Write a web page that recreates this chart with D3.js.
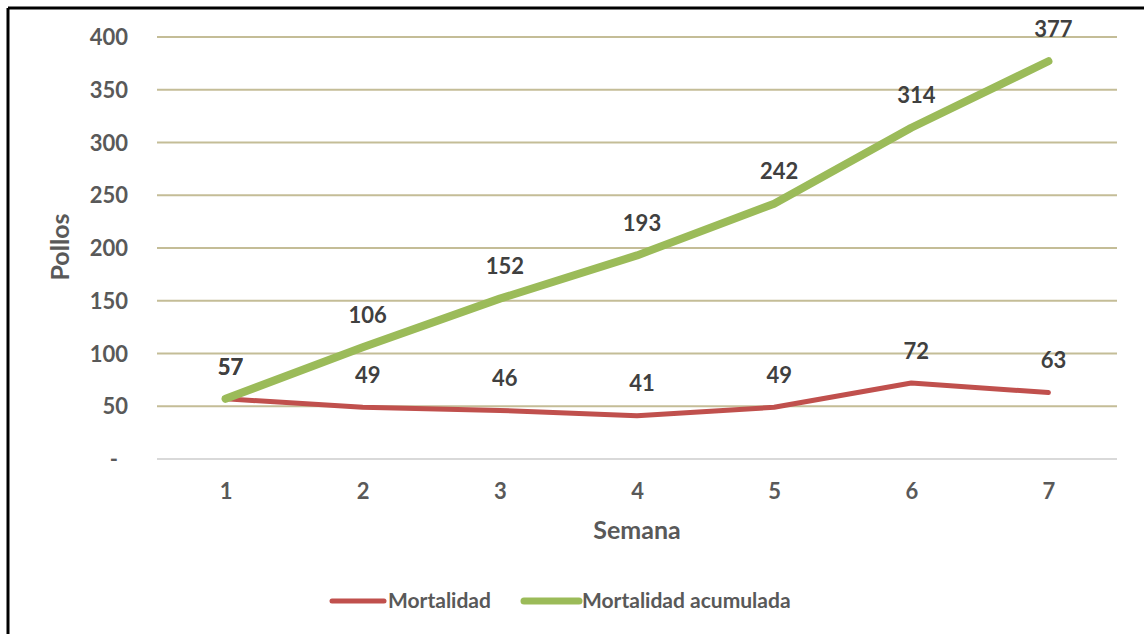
<!DOCTYPE html>
<html>
<head>
<meta charset="utf-8">
<script src="https://cdn.jsdelivr.net/npm/d3@7"></script>
<style>
  body { margin: 0; background: #fff; }
  svg { display: block; }
  text { font-family: Lato, "Open Sans", sans-serif; font-weight: bold; }
</style>
</head>
<body>
<div id="chart"></div>
<script>
// chart data
var semanas = ["1", "2", "3", "4", "5", "6", "7"];
var mortalidad = [57, 49, 46, 41, 49, 72, 63];
var acumulada = [57, 106, 152, 193, 242, 314, 377];
var yTicks = [0, 50, 100, 150, 200, 250, 300, 350, 400];
var seriesNames = ["Mortalidad", "Mortalidad acumulada"];
var seriesColors = ["#C0504D", "#9BBB59"];

var W = 1144, H = 634;
var plot = { left: 157, right: 1117, top: 37, bottom: 459 };

var svg = d3.select("#chart").append("svg")
	.attr("width", W)
	.attr("height", H);

// frame (only top and left edges visible)
svg.append("line").attr("x1", 8).attr("x2", W).attr("y1", 8).attr("y2", 8)
	.attr("stroke", "#000").attr("stroke-width", 3);
svg.append("line").attr("x1", 8).attr("x2", 8).attr("y1", 8).attr("y2", H)
	.attr("stroke", "#000").attr("stroke-width", 3);

var x = d3.scalePoint()
	.domain(semanas)
	.range([plot.left, plot.right])
	.padding(0.5);

var y = d3.scaleLinear()
	.domain([0, 400])
	.range([plot.bottom, plot.top]);

// gridlines
svg.append("g").selectAll("line")
	.data(yTicks)
	.enter().append("line")
		.attr("x1", plot.left)
		.attr("x2", plot.right)
		.attr("y1", function(d){ return y(d); })
		.attr("y2", function(d){ return y(d); })
		.attr("stroke", function(d){ return d == 0 ? "#d9d9d9" : "#c4bd97"; })
		.attr("stroke-width", 2);

// y axis labels
var yAxis = d3.axisLeft(y)
	.tickValues(yTicks)
	.tickSize(0)
	.tickPadding(0)
	.tickFormat(function(d){ return d == 0 ? "-" : d; });

var gy = svg.append("g")
	.attr("transform", "translate(128,0)")
	.call(yAxis);
gy.select(".domain").remove();
gy.selectAll("text")
	.attr("fill", "#595959")
	.attr("font-size", "22px")
	.attr("dy", "0.35em")
	.attr("dx", function(d){ return d == 0 ? -10 : 0; });

// x axis labels
var xAxis = d3.axisBottom(x).tickSize(0).tickPadding(0);
var gx = svg.append("g")
	.attr("transform", "translate(0,491)")
	.call(xAxis);
gx.select(".domain").remove();
gx.selectAll("text")
	.attr("fill", "#595959")
	.attr("font-size", "22px")
	.attr("dy", "0.35em");

// axis titles
svg.append("text")
	.attr("x", 637).attr("y", 530)
	.attr("dy", "0.35em")
	.attr("text-anchor", "middle")
	.attr("fill", "#595959")
	.attr("font-size", "25px")
	.text("Semana");

svg.append("text")
	.attr("transform", "translate(60,247) rotate(-90)")
	.attr("dy", "0.35em")
	.attr("text-anchor", "middle")
	.attr("fill", "#595959")
	.attr("font-size", "25px")
	.text("Pollos");

// series
var series = [mortalidad, acumulada];
var widths = [5, 8];
var line = d3.line()
	.x(function(d, i){ return x(semanas[i]); })
	.y(function(d){ return y(d); });

series.forEach(function(values, s){
	svg.append("path")
		.datum(values)
		.attr("fill", "none")
		.attr("stroke", seriesColors[s])
		.attr("stroke-width", widths[s])
		.attr("stroke-linecap", "round")
		.attr("stroke-linejoin", "round")
		.attr("d", line);
});

// data labels
series.forEach(function(values, s){
	svg.append("g").selectAll("text")
		.data(values)
		.enter().append("text")
			.attr("x", function(d, i){ return x(semanas[i]) + 5; })
			.attr("y", function(d){ return y(d) - 32; })
			.attr("dy", "0.35em")
			.attr("text-anchor", "middle")
			.attr("fill", "#404040")
			.attr("font-size", "22px")
			.text(function(d){ return d; });
});

// legend
var legendX = [332, 524];
var legend = svg.append("g").selectAll("g")
	.data(seriesNames)
	.enter().append("g")
		.attr("transform", function(d, i){ return "translate(" + legendX[i] + ",601)"; });

legend.append("line")
	.attr("x1", 0).attr("x2", function(d, i){ return i == 0 ? 52 : 55; })
	.attr("stroke", function(d, i){ return seriesColors[i]; })
	.attr("stroke-width", function(d, i){ return i == 0 ? 5 : 7; })
	.attr("stroke-linecap", "round");

legend.append("text")
	.attr("x", function(d, i){ return i == 0 ? 56 : 58; })
	.attr("dy", "0.35em")
	.attr("fill", "#595959")
	.attr("font-size", "21px")
	.text(function(d){ return d; });
</script>
</body>
</html>
